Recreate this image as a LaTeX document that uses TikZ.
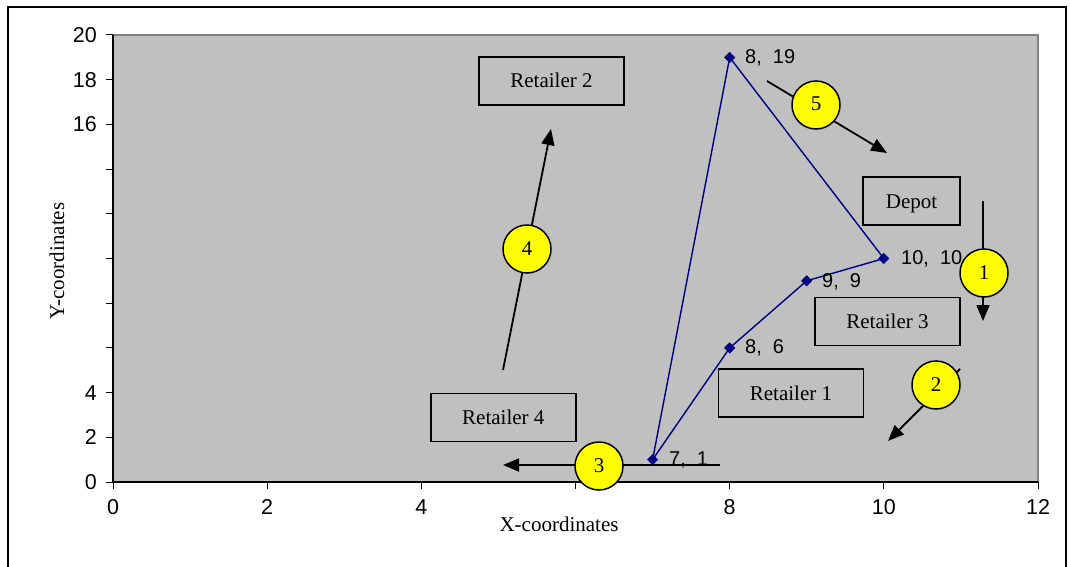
\documentclass[tikz,border=0pt]{standalone}
\usepackage{fontspec}
\setmainfont{Liberation Serif}
\newfontfamily\arialfont{Liberation Sans}
\usetikzlibrary{arrows.meta,shapes.geometric}
\definecolor{plotgray}{RGB}{192,192,192}
\definecolor{framegray}{RGB}{128,128,128}
\definecolor{seriesblue}{RGB}{0,0,128}
\definecolor{badgeyellow}{RGB}{255,255,0}
\begin{document}
\begin{tikzpicture}[x=1pt,y=-1pt,
  ticklabel/.style={font=\arialfont\fontsize{21.5}{24}\selectfont, inner sep=0pt},
  datalabel/.style={font=\arialfont\fontsize{20}{24}\selectfont, anchor=west, inner sep=0pt},
  axistitle/.style={font=\fontsize{21}{25}\selectfont, inner sep=0pt},
  marker/.style={diamond, fill=seriesblue, inner sep=0pt, minimum size=11pt},
  series/.style={draw=seriesblue, line width=1.4pt},
  stopbox/.style={draw, line width=1.5pt, fill=plotgray, minimum width=145pt, minimum height=48pt,
    inner sep=0pt, text height=14pt, text depth=0pt, font=\fontsize{21}{25}\selectfont},
  routearrow/.style={line width=1.8pt, -{Triangle[length=16pt,width=13pt]}},
  badge/.style={circle, draw, line width=1.5pt, fill=badgeyellow, minimum size=48pt, inner sep=0pt,
    text height=12pt, text depth=0pt, font=\fontsize{21}{25}\selectfont}]
\useasboundingbox (0,0) rectangle (1070,567);
\fill[white] (0,0) rectangle (1070,567);
% outer frame
\draw[line width=2.2pt] (8,567) -- (8,7) -- (1066,7) -- (1066,567);
% plot area
\fill[plotgray] (113,35) rectangle (1038,482);
\draw[framegray, line width=1.2pt] (113,35) -- (1038,35) -- (1038,482);
\draw[line width=1.2pt] (113,35) -- (113,482) -- (1038,482);
% ticks
\foreach \k in {0,...,10} \draw[line width=1pt] (106,482-44.7*\k) -- (113,482-44.7*\k);
\foreach \k in {0,...,6} \draw[line width=1pt] (113+154.17*\k,482) -- (113+154.17*\k,489);
% tick labels
\foreach \v/\yy in {0/482,2/437.3,4/392.6,16/124.4,18/79.7,20/35}
  \node[ticklabel, anchor=east] (ylab\v) at (97,\yy) {\v};
\foreach \v/\xx in {0/113,2/267.2,4/421.3,8/729.7,10/883.8,12/1038}
  \node[ticklabel] (xlab\v) at (\xx,507) {\v};
% axis titles
\node[axistitle] (xtitle) at (559,524) {X-coordinates};
\node[axistitle, rotate=90] (ytitle) at (57,261) {Y-coordinates};
% route points
\node[marker] (p71) at (652.6,459.6) {};
\node[marker] (p86) at (729.7,347.9) {};
\node[marker] (p99) at (806.7,280.8) {};
\node[marker] (p1010) at (883.8,258.5) {};
\node[marker] (p819) at (729.7,57.4) {};
\draw[series] (p71.center) -- (p86.center) -- (p99.center) -- (p1010.center) -- (p819.center) -- (p71.center);
\foreach \p in {p71,p86,p99,p1010,p819} \node[marker] at (\p) {};
% point labels
\node[datalabel] (l819) at (745,57.5) {8,~~19};
\node[datalabel] (l1010) at (901,258.5) {10,~~10};
\node[datalabel] (l99) at (822,281.5) {9,~~9};
\node[datalabel] (l86) at (745,347.5) {8,~~6};
\node[datalabel] (l71) at (669,459.5) {7,~~1};
% stops
\node[stopbox] (ret2) at (551.5,81) {Retailer 2};
\node[stopbox] (depot) at (911.5,201) [minimum width=97pt] {Depot};
\node[stopbox] (ret3) at (887.5,321.5) {Retailer 3};
\node[stopbox] (ret1) at (791,393) {Retailer 1};
\node[stopbox] (ret4) at (503.3,417.5) {Retailer 4};
% route arrows
\coordinate (a1s) at (983,201); \coordinate (a1e) at (983,321);
\coordinate (a2s) at (960,369); \coordinate (a2e) at (888,441);
\coordinate (a3s) at (720,465); \coordinate (a3e) at (503,465);
\coordinate (a4s) at (503,370); \coordinate (a4e) at (551,129);
\coordinate (a5s) at (767,81);  \coordinate (a5e) at (887,153);
\foreach \i in {1,...,5} \draw[routearrow] (a\i s) -- (a\i e);
% step badges
\node[badge] (b1) at (984,273) {1};
\node[badge] (b2) at (936,385) {2};
\node[badge] (b3) at (599,466) {3};
\node[badge] (b4) at (527,249) {4};
\node[badge] (b5) at (816,105) {5};
\end{tikzpicture}
\end{document}
